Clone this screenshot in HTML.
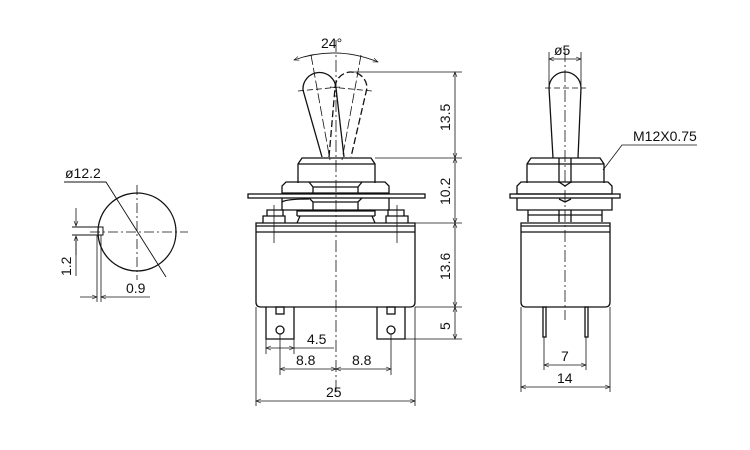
<!DOCTYPE html>
<html><head><meta charset="utf-8"><style>
html,body{margin:0;padding:0;background:#fff}
svg{display:block}
text{font-family:"Liberation Sans","DejaVu Sans",sans-serif;font-size:14px;fill:#111}
</style></head><body>
<svg width="750" height="450" viewBox="0 0 750 450" xmlns="http://www.w3.org/2000/svg">
<defs>
<marker id="a" viewBox="0 0 10 10" refX="10" refY="5" markerWidth="7" markerHeight="5" orient="auto-start-reverse" markerUnits="userSpaceOnUse"><path d="M0,1 L10,5 L0,9" fill="none" stroke="#111" stroke-width="1.2"/></marker>
</defs>
<g fill="none" stroke="#111" stroke-width="1.3">
<!-- LEFT VIEW -->
<circle cx="137" cy="232" r="39"/>
<path d="M72,227 H103 V235 H72" stroke-width="1"/>
<line x1="90" y1="232" x2="188" y2="232" stroke-dasharray="10,3,2,3" stroke-width="0.8"/>
<line x1="137" y1="185" x2="137" y2="280" stroke-dasharray="10,3,2,3" stroke-width="0.8"/>
<path d="M64,182 H106 L166,277" stroke-width="0.9"/>
<line x1="76" y1="208" x2="76" y2="226" stroke-width="0.8" marker-end="url(#a)"/>
<line x1="76" y1="255" x2="76" y2="236" stroke-width="0.8" marker-end="url(#a)"/>
<line x1="76" y1="236" x2="76" y2="276" stroke-width="0.8"/>
<line x1="97" y1="235" x2="97" y2="302" stroke-width="0.8"/>
<line x1="101" y1="235" x2="101" y2="302" stroke-width="0.8"/>
<line x1="80" y1="297" x2="97" y2="297" stroke-width="0.8" marker-end="url(#a)"/>
<line x1="150" y1="297" x2="101" y2="297" stroke-width="0.8" marker-end="url(#a)"/>

<!-- MIDDLE VIEW -->
<path d="M294,60 Q336,45 378,62" stroke-width="0.9" marker-start="url(#a)" marker-end="url(#a)"/>
<line x1="311" y1="55" x2="330" y2="160" stroke-width="0.8" stroke-dasharray="10,3"/>
<line x1="361" y1="55" x2="342" y2="160" stroke-width="0.8" stroke-dasharray="10,3"/>
<path d="M322,157 L303,90 A16.5,16.5 0 0 1 336,88 L344,157"/>
<path d="M329,157 L335,88 A16,16 0 0 1 367,88 L351,157" stroke-dasharray="7,3"/>
<line x1="298" y1="91" x2="340" y2="87" stroke-dasharray="6,3" stroke-width="0.8"/>
<line x1="330" y1="87" x2="372" y2="91" stroke-dasharray="6,3" stroke-width="0.8"/>
<path d="M298,183 V164 L302,158 H371 L375,164 V183"/>
<line x1="298" y1="164" x2="375" y2="164"/>
<path d="M282,193 V186 L286,182 H385 L389,186 V193 Z"/>
<path d="M309,182 L313,187 H358 L362,182 M313,187 V193 M358,187 V193"/>
<rect x="248" y="194" width="177" height="4"/>
<path d="M282,198 V210 H389 V198 M282,202 Q286,199 309,199 M309,198 L313,202 H358 L362,198 M313,202 V210 M358,202 V210"/>
<path d="M267,216 V210 H283 V216 M263,223 V216 H285 V223"/>
<path d="M388,216 V210 H404 V216 M386,223 V216 H408 V223"/>
<path d="M297,216 V211 H375 V216 M300,216 L297,223 M372,216 L375,223 M297,216 H375"/>
<path d="M256,223 H415 V302 Q415,307 410,307 H261 Q256,307 256,302 Z"/>
<line x1="256" y1="226" x2="415" y2="226"/>
<line x1="256" y1="232" x2="415" y2="232"/>
<path d="M266,307 V339 H294 V307"/>
<path d="M377,307 V339 H405 V307"/>
<rect x="276" y="307" width="8" height="7"/>
<rect x="387" y="307" width="8" height="7"/>
<circle cx="280" cy="330" r="4"/>
<circle cx="391" cy="330" r="4"/>
<line x1="274" y1="205" x2="274" y2="243" stroke-width="0.8"/>
<line x1="397" y1="205" x2="397" y2="243" stroke-width="0.8"/>
<line x1="336" y1="40" x2="336" y2="395" stroke-dasharray="12,3,2,3" stroke-width="0.8"/>
<g stroke-width="0.8">
<line x1="352" y1="72" x2="462" y2="72"/>
<line x1="375" y1="158" x2="462" y2="158"/>
<line x1="415" y1="223" x2="462" y2="223"/>
<line x1="415" y1="307" x2="462" y2="307"/>
<line x1="405" y1="339" x2="462" y2="339"/>
<line x1="455" y1="72" x2="455" y2="158" marker-start="url(#a)" marker-end="url(#a)"/>
<line x1="455" y1="158" x2="455" y2="223" marker-start="url(#a)" marker-end="url(#a)"/>
<line x1="455" y1="223" x2="455" y2="307" marker-start="url(#a)" marker-end="url(#a)"/>
<line x1="455" y1="307" x2="455" y2="339" marker-start="url(#a)" marker-end="url(#a)"/>
<line x1="266" y1="339" x2="266" y2="354"/>
<line x1="294" y1="339" x2="294" y2="354"/>
<line x1="280" y1="334" x2="280" y2="375"/>
<line x1="391" y1="334" x2="391" y2="375"/>
<line x1="256" y1="307" x2="256" y2="406"/>
<line x1="415" y1="307" x2="415" y2="406"/>
<line x1="266" y1="348" x2="294" y2="348" marker-start="url(#a)" marker-end="url(#a)"/>
<line x1="294" y1="348" x2="334" y2="348"/>
<line x1="280" y1="369" x2="336" y2="369" marker-start="url(#a)" marker-end="url(#a)"/>
<line x1="336" y1="369" x2="391" y2="369" marker-start="url(#a)" marker-end="url(#a)"/>
<line x1="256" y1="401" x2="415" y2="401" marker-start="url(#a)" marker-end="url(#a)"/>
</g>

<!-- RIGHT VIEW -->
<path d="M553,158 L549,88 A16,16 0 0 1 581,88 L578,158"/>
<line x1="545" y1="88" x2="586" y2="88" stroke-dasharray="6,3" stroke-width="0.8"/>
<path d="M527,183 V164 L531,158 H600 L604,164 V183"/>
<line x1="527" y1="164" x2="604" y2="164"/>
<path d="M559,158 V183 M571,158 V183"/>
<path d="M517,194 V186 L521,182 H608 L612,186 V194 Z M559,182 L565,186 L571,182"/>
<rect x="510" y="194" width="110" height="4"/>
<path d="M517,198 V210 H612 V198 M559,199 L565,202 L571,199"/>
<path d="M528,210 V222 M602,210 V222 M559,210 V222 M571,210 V222 M528,215 H602"/>
<path d="M521,223 H610 V302 Q610,307 605,307 H526 Q521,307 521,302 Z"/>
<line x1="521" y1="226" x2="610" y2="226"/>
<line x1="521" y1="232" x2="610" y2="232"/>
<rect x="543" y="307" width="3" height="30"/>
<rect x="585" y="307" width="3" height="30"/>
<line x1="565" y1="50" x2="565" y2="320" stroke-dasharray="12,3,2,3" stroke-width="0.8"/>
<g stroke-width="0.8">
<line x1="549" y1="52" x2="549" y2="88"/>
<line x1="581" y1="52" x2="581" y2="88"/>
<line x1="549" y1="59" x2="581" y2="59" marker-start="url(#a)" marker-end="url(#a)"/>
<path d="M697,145 H622 L603,170"/>
<line x1="544" y1="337" x2="544" y2="370"/>
<line x1="586" y1="337" x2="586" y2="370"/>
<line x1="521" y1="307" x2="521" y2="392"/>
<line x1="610" y1="307" x2="610" y2="392"/>
<line x1="544" y1="365" x2="586" y2="365" marker-start="url(#a)" marker-end="url(#a)"/>
<line x1="521" y1="387" x2="610" y2="387" marker-start="url(#a)" marker-end="url(#a)"/>
</g>
</g>
<text x="65" y="178">ø12.2</text>
<text x="126" y="293">0.9</text>
<text transform="translate(71,276) rotate(-90)">1.2</text>
<text x="321" y="48">24°</text>
<text transform="translate(450,131) rotate(-90)">13.5</text>
<text transform="translate(450,205) rotate(-90)">10.2</text>
<text transform="translate(450,280) rotate(-90)">13.6</text>
<text transform="translate(450,330) rotate(-90)">5</text>
<text x="307" y="344">4.5</text>
<text x="296" y="365">8.8</text>
<text x="352" y="365">8.8</text>
<text x="326" y="397">25</text>
<text x="554" y="55">ø5</text>
<text x="633" y="141">M12X0.75</text>
<text x="561" y="361">7</text>
<text x="557" y="383">14</text>
</svg>
</body></html>
